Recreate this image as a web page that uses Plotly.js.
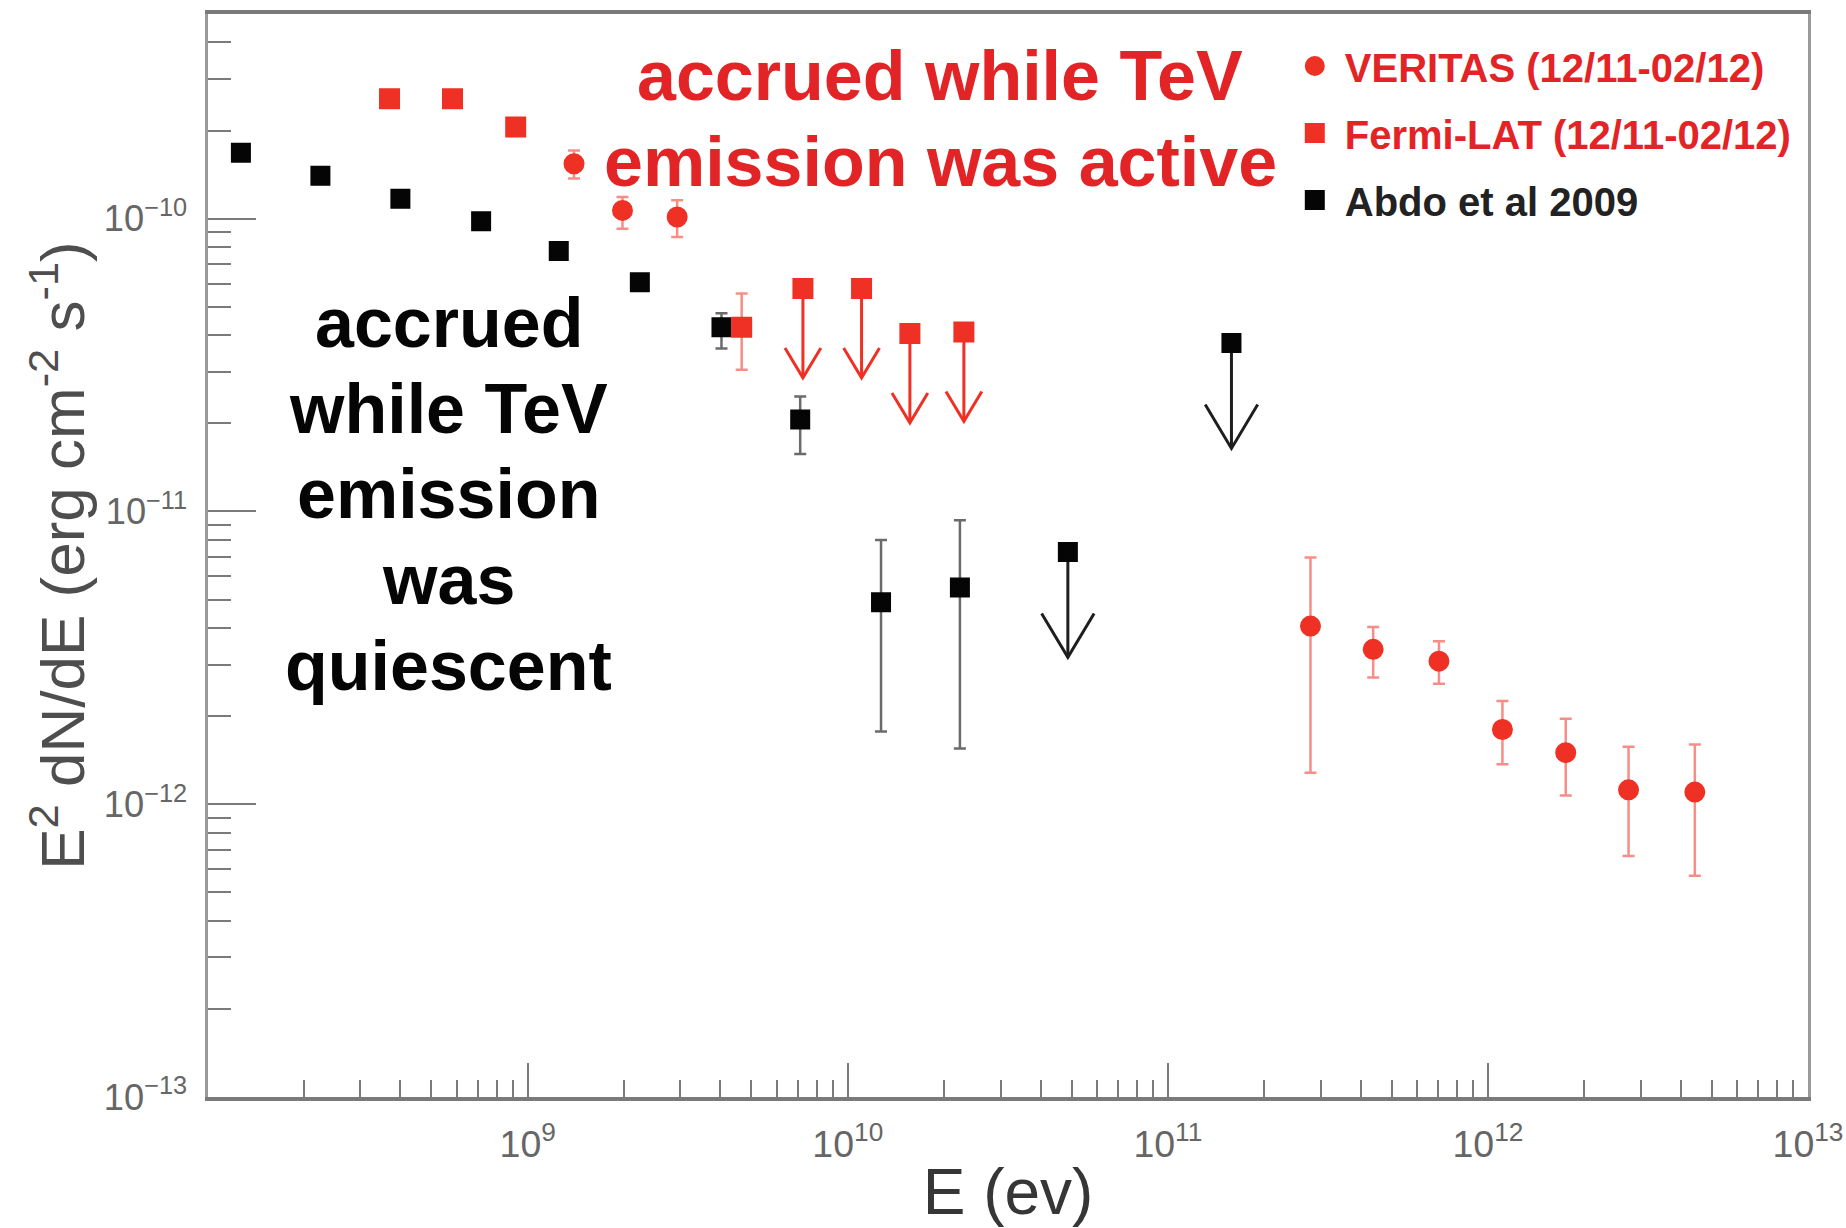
<!DOCTYPE html>
<html>
<head>
<meta charset="utf-8">
<script src="https://cdn.plot.ly/plotly-3.0.1.min.js"></script>
<style>
  html, body { margin: 0; padding: 0; background: #ffffff; }
  #chart { width: 1846px; height: 1228px; }
</style>
</head>
<body>
<div id="chart"></div>
<script>
// Spectral energy distribution: E^2 dN/dE (erg cm^-2 s^-1) versus photon energy E (eV)

// Abdo et al 2009 - measured points
const abdoE  = [1.27e8, 2.25e8, 4.0e8, 7.15e8, 1.25e9, 2.24e9, 4.03e9, 7.1e9, 1.27e10, 2.24e10];
const abdoF  = [1.68e-10, 1.40e-10, 1.17e-10, 9.8e-11, 7.75e-11, 6.07e-11, 4.26e-11, 2.06e-11, 4.9e-12, 5.5e-12];
const abdoHi = [null, null, null, null, null, null, 4.75e-11, 2.47e-11, 7.98e-12, 9.33e-12];
const abdoLo = [null, null, null, null, null, null, 3.6e-11, 1.57e-11, 1.77e-12, 1.55e-12];
// Abdo et al 2009 - upper limits
const abdoUlE = [4.87e10, 1.58e11];
const abdoUlF = [7.27e-12, 3.76e-11];

// Fermi-LAT (12/11-02/12) - measured points
const fermiE  = [3.70e8, 5.82e8, 9.17e8, 1.395e9, 1.977e9, 2.93e9, 4.66e9];
const fermiF  = [2.57e-10, 2.57e-10, 2.055e-10, 1.54e-10, 1.067e-10, 1.013e-10, 4.26e-11];
const fermiHi = [null, null, null, 1.71e-10, 1.185e-10, 1.155e-10, 5.55e-11];
const fermiLo = [null, null, null, 1.37e-10, 9.24e-11, 8.65e-11, 3.05e-11];
// Fermi-LAT (12/11-02/12) - upper limits
const fermiUlE = [7.24e9, 1.104e10, 1.563e10, 2.305e10];
const fermiUlF = [5.77e-11, 5.77e-11, 4.05e-11, 4.10e-11];

// VERITAS (12/11-02/12)
const veritasE  = [2.79e11, 4.38e11, 7.03e11, 1.11e12, 1.75e12, 2.75e12, 4.43e12];
const veritasF  = [4.06e-12, 3.38e-12, 3.08e-12, 1.80e-12, 1.50e-12, 1.12e-12, 1.10e-12];
const veritasHi = [6.96e-12, 4.03e-12, 3.60e-12, 2.25e-12, 1.96e-12, 1.57e-12, 1.60e-12];
const veritasLo = [1.28e-12, 2.71e-12, 2.58e-12, 1.37e-12, 1.07e-12, 6.65e-13, 5.70e-13];

// ---- styling ----
const FONT = 'Liberation Sans, Arial, Helvetica, sans-serif';
const RED = 'rgb(238,49,36)';
const RED_TEXT = 'rgb(226,36,38)';
const RED_ERR = 'rgba(238,49,36,0.55)';
const BLACK = '#050505';
const BLACK_ERR = 'rgba(70,70,70,0.8)';
const fermiSymbols = ['square', 'square', 'square', 'circle', 'circle', 'circle', 'square'];

function plusErr(vals, hi) { return vals.map((v, i) => hi[i] == null ? NaN : hi[i] - v); }
function minusErr(vals, lo) { return vals.map((v, i) => lo[i] == null ? NaN : v - lo[i]); }

// Upper-limit arrow: vertical shaft dropping from the limit, open "V" head at the bottom.
// drop / armX / armY are lengths in decades on the log axes.
function upperLimitPath(E, F, drop, armX, armY) {
  const xs = [], ys = [];
  E.forEach((e, i) => {
    const tip = F[i] / Math.pow(10, drop);
    xs.push(e, e, null, e / Math.pow(10, armX), e, e * Math.pow(10, armX), null);
    ys.push(F[i], tip, null, tip * Math.pow(10, armY), tip, tip * Math.pow(10, armY), null);
  });
  return { x: xs, y: ys };
}

const abdoArrows = upperLimitPath(abdoUlE, abdoUlF, 0.36, 0.082, 0.15);
const fermiArrows = upperLimitPath(fermiUlE, fermiUlF, 0.305, 0.056, 0.102);

const traces = [
  {
    x: abdoArrows.x, y: abdoArrows.y, type: 'scatter', mode: 'lines',
    line: { color: '#1e1e1e', width: 3 }, showlegend: false, hoverinfo: 'skip', connectgaps: false
  },
  {
    x: abdoE, y: abdoF, type: 'scatter', mode: 'markers',
    name: 'Abdo et al 2009', legendgroup: 'abdo', legendrank: 3,
    marker: { symbol: 'square', size: 16, color: BLACK, line: { color: BLACK, width: 4 } },
    error_y: { type: 'data', symmetric: false, array: plusErr(abdoF, abdoHi), arrayminus: minusErr(abdoF, abdoLo),
               color: BLACK_ERR, thickness: 2.5, width: 6 }
  },
  {
    x: abdoUlE, y: abdoUlF, type: 'scatter', mode: 'markers',
    name: 'Abdo et al 2009 (UL)', legendgroup: 'abdo', showlegend: false,
    marker: { symbol: 'square', size: 16, color: BLACK, line: { color: BLACK, width: 4 } }
  },
  {
    x: fermiArrows.x, y: fermiArrows.y, type: 'scatter', mode: 'lines',
    line: { color: RED, width: 3 }, showlegend: false, hoverinfo: 'skip', connectgaps: false
  },
  {
    x: fermiE, y: fermiF, type: 'scatter', mode: 'markers',
    name: '<span style="color:' + RED_TEXT + '">Fermi-LAT (12/11-02/12)</span>', legendgroup: 'fermi', legendrank: 2,
    marker: { symbol: fermiSymbols, size: 17, color: RED, line: { color: RED, width: 4 } },
    error_y: { type: 'data', symmetric: false, array: plusErr(fermiF, fermiHi), arrayminus: minusErr(fermiF, fermiLo),
               color: RED_ERR, thickness: 2.5, width: 6 }
  },
  {
    x: fermiUlE, y: fermiUlF, type: 'scatter', mode: 'markers',
    name: 'Fermi-LAT (UL)', legendgroup: 'fermi', showlegend: false,
    marker: { symbol: 'square', size: 17, color: RED, line: { color: RED, width: 4 } }
  },
  {
    x: veritasE, y: veritasF, type: 'scatter', mode: 'markers',
    name: '<span style="color:' + RED_TEXT + '">VERITAS (12/11-02/12)</span>', legendgroup: 'veritas', legendrank: 1,
    marker: { symbol: 'circle', size: 17, color: RED, line: { color: RED, width: 4 } },
    error_y: { type: 'data', symmetric: false, array: plusErr(veritasF, veritasHi), arrayminus: minusErr(veritasF, veritasLo),
               color: RED_ERR, thickness: 2.5, width: 6 }
  }
];

function textLine(txt, x, y, color) {
  return { xref: 'paper', yref: 'paper', x: x, y: y, xanchor: 'center', yanchor: 'middle',
           text: txt, showarrow: false,
           font: { family: FONT, size: 70, color: color, weight: 'bold' } };
}

const annotations = [
  textLine('accrued while TeV', 0.4575, 0.9428, RED_TEXT),
  textLine('emission was active', 0.4575, 0.8633, RED_TEXT),
  textLine('accrued', 0.1506, 0.7147, '#050505'),
  textLine('while TeV', 0.1506, 0.6353, '#050505'),
  textLine('emission', 0.1506, 0.5568, '#050505'),
  textLine('was', 0.1506, 0.4774, '#050505'),
  textLine('quiescent', 0.1506, 0.3980, '#050505')
];

const layout = {
  width: 1846, height: 1228,
  paper_bgcolor: '#ffffff', plot_bgcolor: '#ffffff',
  margin: { l: 208, r: 38, t: 14, b: 131, pad: 0 },
  font: { family: FONT, color: '#555555' },
  showlegend: true,
  legend: {
    x: 0.673, y: 0.982, xanchor: 'left', yanchor: 'top',
    bgcolor: 'rgba(0,0,0,0)', borderwidth: 0,
    font: { family: FONT, size: 40, color: '#222222', weight: 'bold' },
    itemwidth: 50, tracegroupgap: 12, traceorder: 'grouped'
  },
  xaxis: {
    type: 'log', range: [8.001, 13], dtick: 1, exponentformat: 'power',
    ticks: 'inside', ticklen: 34, tickwidth: 2, tickcolor: '#7a7a7a',
    minor: { ticks: 'inside', ticklen: 17, tickwidth: 2, tickcolor: '#7a7a7a', dtick: 'D1', showgrid: false },
    showline: true, linecolor: '#7a7a7a', linewidth: 4, mirror: true,
    showgrid: false, zeroline: false, automargin: false,
    tickfont: { family: FONT, size: 30, color: '#666666' }, ticklabelstandoff: 12,
    title: { text: 'E (ev)', font: { family: FONT, size: 64, color: '#363636' }, standoff: 8 }
  },
  yaxis: {
    type: 'log', range: [-13, Math.log10(5e-10)], dtick: 1, exponentformat: 'power',
    ticks: 'inside', ticklen: 48, tickwidth: 2, tickcolor: '#7a7a7a',
    minor: { ticks: 'inside', ticklen: 23, tickwidth: 2, tickcolor: '#7a7a7a', dtick: 'D1', showgrid: false },
    showline: true, linecolor: '#9a9a9a', linewidth: 3, mirror: true,
    showgrid: false, zeroline: false, automargin: false,
    tickfont: { family: FONT, size: 29, color: '#666666' }, ticklabelstandoff: 12,
    title: { text: 'E<sup>2</sup> dN/dE (erg cm<sup>-2</sup> s<sup>-1</sup>)', font: { family: FONT, size: 62, color: '#4e4e4e' }, standoff: 0 }
  },
  annotations: annotations
};

Plotly.newPlot('chart', traces, layout, { displayModeBar: false, staticPlot: true });
</script>
</body>
</html>
